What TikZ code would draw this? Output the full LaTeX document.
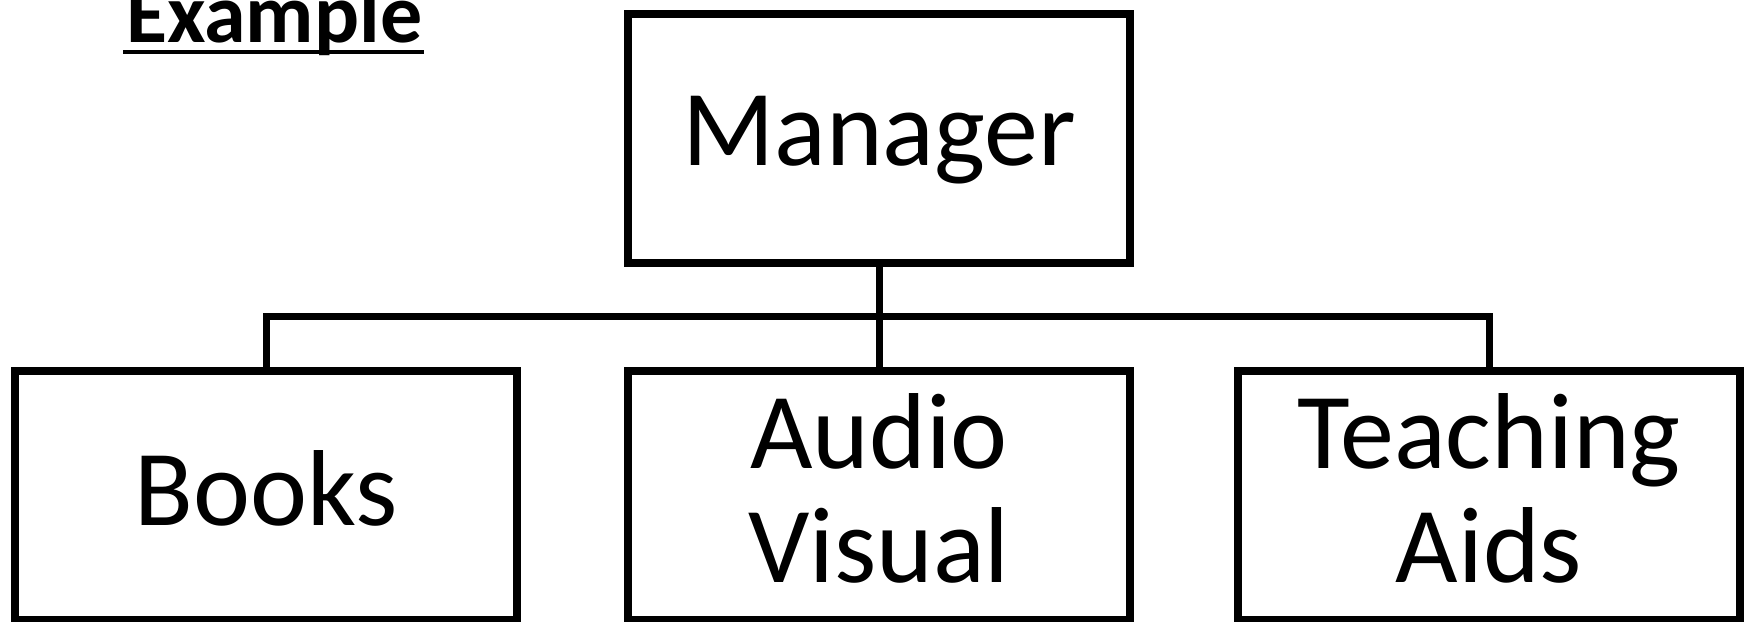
\documentclass[tikz,border=0pt]{standalone}
\usepackage{fontspec}
\setmainfont{Carlito}
\usetikzlibrary{shadows}

\tikzset{
  unit/.style={draw, line width=8pt, fill=white, minimum width=502pt, minimum height=249pt,
    inner sep=0pt, align=center, text depth=14pt, font=\fontsize{108}{114}\selectfont,
    drop shadow={shadow xshift=2pt, shadow yshift=-2pt, opacity=.3}},
  link/.style={line width=7pt}
}

\begin{document}
\begin{tikzpicture}[x=1pt,y=-1pt]
    \useasboundingbox (0,0) rectangle (1750,621);
    \node[anchor=base west, inner sep=0pt, font=\fontsize{84}{90}\bfseries\selectfont] (title) at (126,42) {Example}; % heading
    \draw[line width=4.5pt] ([xshift=-3pt,yshift=-10pt]title.base west) -- ([xshift=2pt,yshift=-10pt]title.base east); % underline
    \node[unit] (mgr) at (879,138) {Manager};
    \node[unit] (books) at (266,495) {Books};
    \node[unit] (av) at (879,495) {Audio\\Visual};
    \node[unit] (aids) at (1489,495) {Teaching\\Aids};
    \coordinate (bus) at (879,316); % branch line
    \draw[link] (books.north) |- (bus) -| (aids.north);
    \draw[link] (mgr.south) -- (av.north);
  \end{tikzpicture}
\end{document}
